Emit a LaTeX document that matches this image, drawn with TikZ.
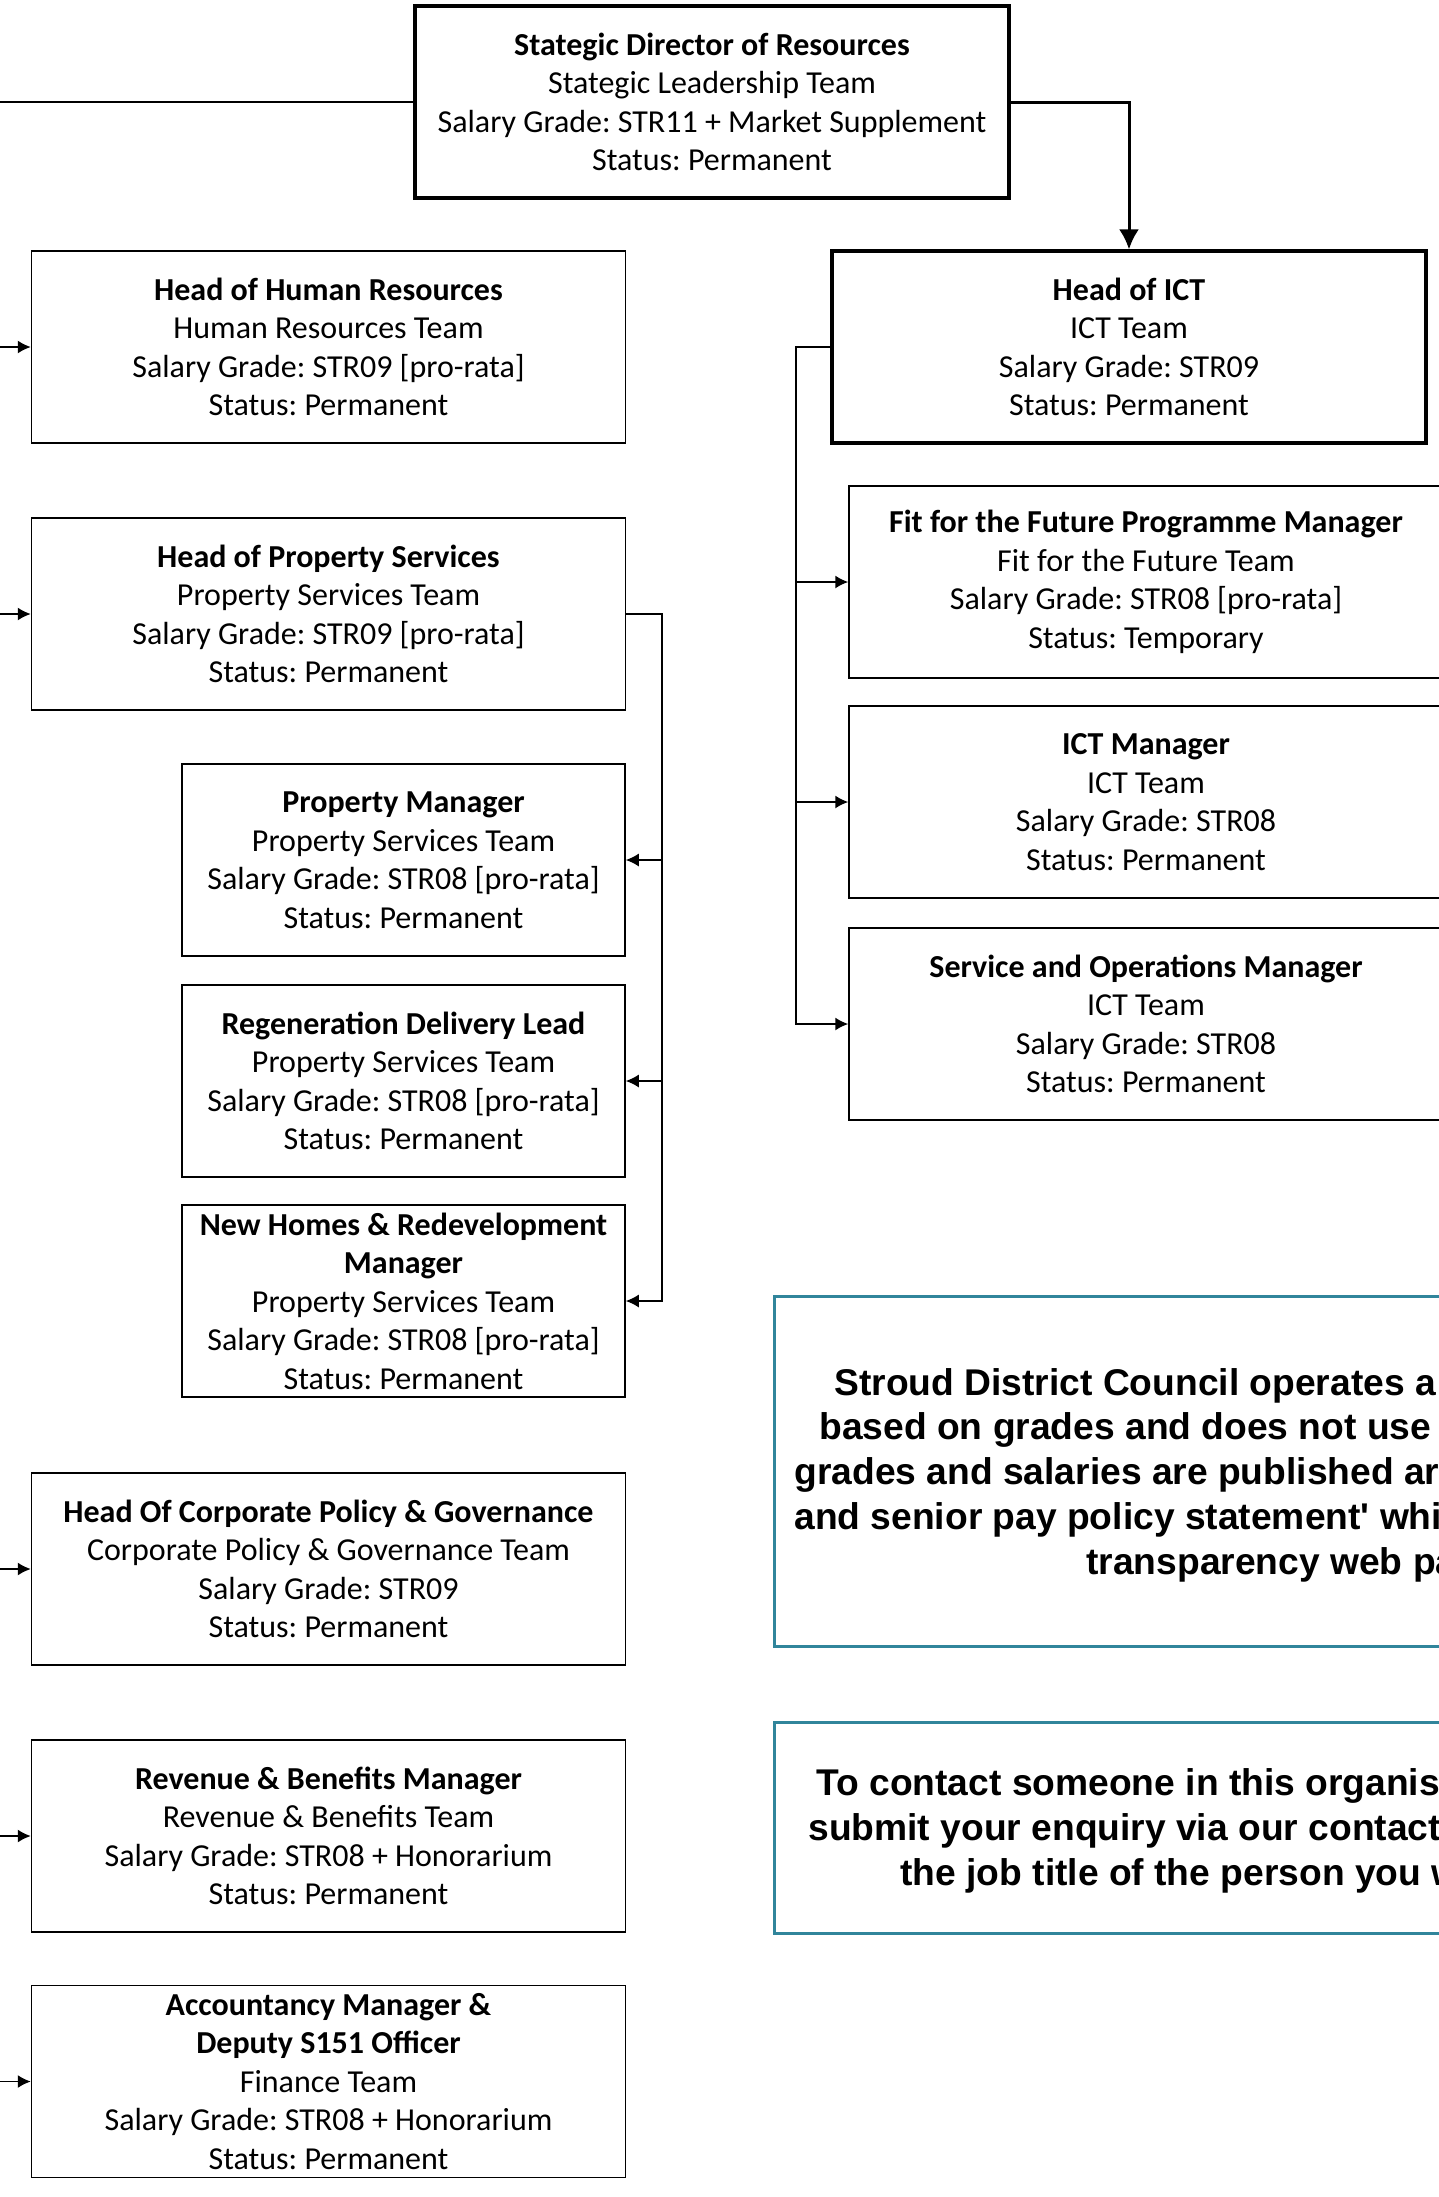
\documentclass[tikz,border=0pt]{standalone}
\usepackage{fontspec}
\setmainfont{Carlito}
\newfontfamily\notefont{Liberation Sans}
\usetikzlibrary{arrows.meta}
\frenchspacing

\definecolor{notecol}{RGB}{49,133,155}

\tikzset{
  post/.style={draw, line width=0.75pt, minimum width=297pt, minimum height=96pt,
    inner sep=0pt, align=center, font=\fontsize{16}{19.25}\selectfont},
  headpost/.style={post, line width=1.6pt},
  subpost/.style={post, minimum width=221.5pt},
  note/.style={draw=notecol, line width=1.5pt, inner sep=0pt, anchor=north west},
  notetext/.style={anchor=west, inner sep=0pt, text height=14pt, text depth=4pt,
    font=\notefont\bfseries\fontsize{18.6}{22.4}\selectfont},
  link/.style={line width=0.75pt, -{Latex[length=6.5pt,width=6.5pt]}},
  mainlink/.style={line width=1.5pt, -{Latex[length=10pt,width=10pt]}},
}

\begin{document}
\begin{tikzpicture}[x=0.5pt,y=-0.5pt]
\useasboundingbox (0,0) rectangle (1439,2197);

% director
\node[headpost] (dir) at (712,102) {\textbf{Stategic Director of Resources}\\Stategic Leadership Team\\Salary Grade: STR11 + Market Supplement\\Status: Permanent};

% left column
\node[post] (hr) at (328.5,347) {\textbf{Head of Human Resources}\\Human Resources Team\\Salary Grade: STR09 [pro-rata]\\Status: Permanent};
\node[post] (prop) at (328.5,614) {\textbf{Head of Property Services}\\Property Services Team\\Salary Grade: STR09 [pro-rata]\\Status: Permanent};
\node[subpost] (pm) at (403.5,860) {\textbf{Property Manager}\\Property Services Team\\Salary Grade: STR08 [pro-rata]\\Status: Permanent};
\node[subpost] (regen) at (403.5,1081) {\textbf{Regeneration Delivery Lead}\\Property Services Team\\Salary Grade: STR08 [pro-rata]\\Status: Permanent};
\node[subpost] (newh) at (403.5,1301) {\textbf{New Homes \& Redevelopment}\\\textbf{Manager}\\Property Services Team\\Salary Grade: STR08 [pro-rata]\\Status: Permanent};
\node[post] (corp) at (328.5,1569) {\textbf{Head Of Corporate Policy \& Governance}\\Corporate Policy \& Governance Team\\Salary Grade: STR09\\Status: Permanent};
\node[post] (rev) at (328.5,1836) {\textbf{Revenue \& Benefits Manager}\\Revenue \& Benefits Team\\Salary Grade: STR08 + Honorarium\\Status: Permanent};
\node[post] (acc) at (328.5,2081.5) {\textbf{Accountancy Manager \&}\\\textbf{Deputy S151 Officer}\\Finance Team\\Salary Grade: STR08 + Honorarium\\Status: Permanent};

% right column
\node[headpost] (ict) at (1129,347) {\textbf{Head of ICT}\\ICT Team\\Salary Grade: STR09\\Status: Permanent};
\node[post] (fit) at (1146,582) {\textbf{Fit for the Future Programme Manager}\\Fit for the Future Team\\Salary Grade: STR08 [pro-rata]\\Status: Temporary};
\node[post] (ictm) at (1146,802) {\textbf{ICT Manager}\\ICT Team\\Salary Grade: STR08\\Status: Permanent};
\node[post] (svc) at (1146,1024) {\textbf{Service and Operations Manager}\\ICT Team\\Salary Grade: STR08\\Status: Permanent};

% notes
\node[note, minimum width=350pt, minimum height=175pt] (note1) at (773,1295) {};
\node[notetext] (n1a) at (834,1385) {Stroud District Council operates a};
\node[notetext] (n1b) at (819,1429) {based on grades and does not use};
\node[notetext] (n1c) at (794,1474) {grades and salaries are published ar};
\node[notetext] (n1d) at (794,1519) {and senior pay policy statement\textquotesingle{} whi};
\node[notetext] (n1e) at (1086,1564) {transparency web pa};
\node[note, minimum width=350pt, minimum height=105.5pt] (note2) at (773,1721) {};
\node[notetext] (n2a) at (816,1785) {To contact someone in this organis};
\node[notetext] (n2b) at (808,1830) {submit your enquiry via our contact};
\node[notetext] (n2c) at (900,1875) {the job title of the person you w};

% connectors
\coordinate (offtop) at (-10,102);
\coordinate (ictbus) at (796,347);
\coordinate (propbus) at (662,614);
\draw[line width=1pt] (dir.west) -- (offtop);
\draw[mainlink] (dir.east) -| (ict.north);
\foreach \n in {hr,prop,corp,rev,acc}
  \draw[link] (\n.west) ++(-50,0) coordinate (\n in) -- (\n.west);
\draw[link] (ict.west) -- (ictbus) |- (svc.west);
\draw[link] (ictbus |- fit.west) -- (fit.west);
\draw[link] (ictbus |- ictm.west) -- (ictm.west);
\draw[link] (prop.east) -- (propbus) |- (newh.east);
\draw[link] (propbus |- pm.east) -- (pm.east);
\draw[link] (propbus |- regen.east) -- (regen.east);
\end{tikzpicture}
\end{document}
